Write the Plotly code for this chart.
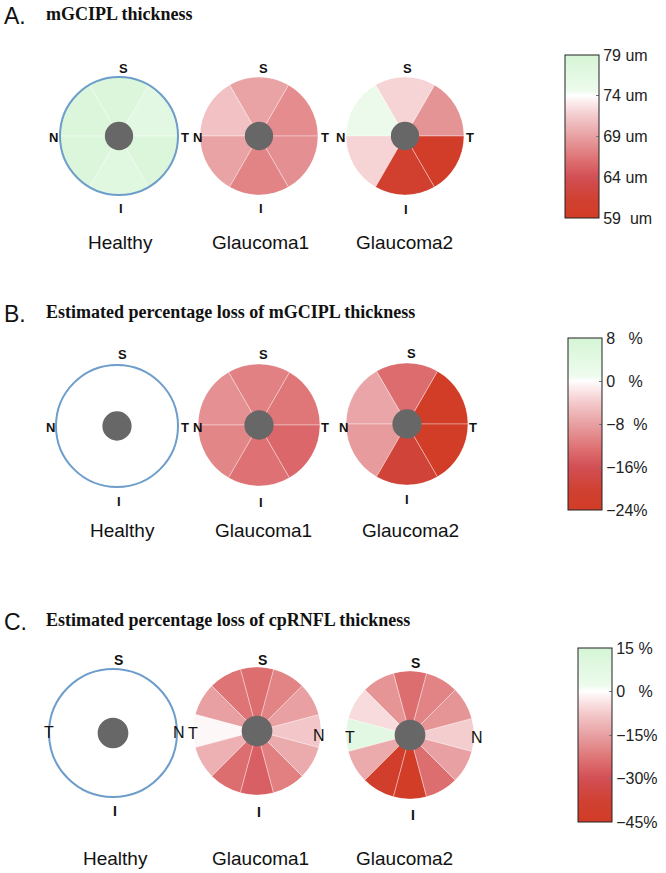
import plotly.graph_objects as go

W, H = 666, 873

# ---------------- data ----------------
groups = ["Healthy", "Glaucoma1", "Glaucoma2"]

# Panel A / B: 6 macular sectors (angle centres, counter-clockwise from the right side)
sector6_theta = [30, 90, 150, 210, 270, 330]
a_healthy = [76.5, 78.0, 78.0, 78.0, 77.0, 78.0]
a_glauc1 = [67.8, 69.2, 71.0, 69.2, 67.3, 68.0]
a_glauc2 = [68.3, 72.0, 75.0, 72.0, 60.5, 59.5]
a_ticks = [79, 74, 69, 64, 59]
a_ticktext = ["79 um", "74 um", "69 um", "64 um", "59  um"]

b_healthy = [0, 0, 0, 0, 0, 0]
b_glauc1 = [-12.0, -11.0, -9.5, -10.5, -12.5, -13.5]
b_glauc2 = [-23.5, -13.0, -7.5, -8.5, -19.5, -23.5]
b_ticks = [8, 0, -8, -16, -24]
b_ticktext = ["8   %", "0   %", "\u22128  %", "\u221216%", "\u221224%"]

# Panel C: 12 clock-hour sectors (0 = nasal on the right, 180 = temporal on the left)
sector12_theta = [0, 30, 60, 90, 120, 150, 180, 210, 240, 270, 300, 330]
c_healthy = [0, 0, 0, 0, 0, 0, 0, 0, 0, 0, 0, 0]
c_glauc1 = [-8, -15, -20, -24, -23, -15, -1, -12, -24, -27, -21, -13]
c_glauc2 = [-7, -17, -20, -24, -17, -5, 8, -13, -42, -44, -24, -15]
c_ticks = [15, 0, -15, -30, -45]
c_ticktext = ["15 %", "0   %", "\u221215%", "\u221230%", "\u221245%"]

# ---------------- style ----------------
cscale = [
    [0.0, "#d23c26"], [0.12, "#d04132"], [0.25, "#d24f55"], [0.35, "#dd6e70"],
    [0.5, "#e8a0a2"], [0.62, "#f3c8ca"], [0.72, "#fdf0f1"], [0.75, "#ffffff"],
    [0.78, "#eefbee"], [1.0, "#d5f5d5"],
]
SANS = "Liberation Sans, Arial, sans-serif"
SERIF = "Liberation Serif, Times New Roman, serif"

fig = go.Figure()

panels = [
    ([a_healthy, a_glauc1, a_glauc2], sector6_theta, 60, "coloraxis",
     [(119, 136), (259, 136), (405, 136)], 59),
    ([b_healthy, b_glauc1, b_glauc2], sector6_theta, 60, "coloraxis2",
     [(117, 426), (259, 425), (407, 424)], 61),
    ([c_healthy, c_glauc1, c_glauc2], sector12_theta, 30, "coloraxis3",
     [(113, 733), (257, 731), (410, 735)], 64),
]

k = 0
for vals_list, theta, wdt, cax, centres, rad in panels:
    for gi, vals in enumerate(vals_list):
        k += 1
        pname = "polar" if k == 1 else f"polar{k}"
        healthy = gi == 0
        fig.add_trace(go.Barpolar(
            r=[1] * len(vals), theta=theta, width=[wdt] * len(vals),
            marker=dict(color=vals, coloraxis=cax,
                        line=dict(color="rgba(255,255,255,0.45)", width=0.8)),
            subplot=pname, showlegend=False, hoverinfo="theta+text",
            text=[str(v) for v in vals],
        ))
        fig.add_trace(go.Barpolar(
            r=[0.24], theta=[0], width=[360],
            marker=dict(color="#676767", line=dict(width=0)),
            subplot=pname, showlegend=False, hoverinfo="skip",
        ))
        cx, cy = centres[gi]
        fig.layout[pname] = dict(
            domain=dict(x=[(cx - rad) / W, (cx + rad) / W],
                        y=[1 - (cy + rad) / H, 1 - (cy - rad) / H]),
            bgcolor="rgba(0,0,0,0)", barmode="overlay",
            radialaxis=dict(visible=False, range=[0, 1]),
            angularaxis=dict(
                rotation=0, direction="counterclockwise",
                showgrid=False, ticks="", showticklabels=False,
                showline=healthy, linecolor="#6d9dca", linewidth=2,
            ),
        )

def cbar(ticks, ticktext, x, ytop, ybot):
    return dict(
        tickmode="array", tickvals=ticks, ticktext=ticktext,
        x=x / W, xanchor="left", y=1 - (ytop + ybot) / 2 / H, yanchor="middle",
        len=(ybot - ytop) / H, lenmode="fraction",
        thickness=34, thicknessmode="pixels",
        outlinewidth=1, outlinecolor="#222", xpad=0, ypad=0,
        ticks="inside", ticklen=3, tickcolor="#777",
        tickfont=dict(family=SANS, size=16, color="#222"),
    )

fig.update_layout(
    coloraxis=dict(colorscale=cscale, cmin=59, cmax=79,
                   colorbar=cbar(a_ticks, a_ticktext, 565, 55, 218)),
    coloraxis2=dict(colorscale=cscale, cmin=-24, cmax=8,
                    colorbar=cbar(b_ticks, b_ticktext, 568, 338, 510)),
    coloraxis3=dict(colorscale=cscale, cmin=-45, cmax=15,
                    colorbar=cbar(c_ticks, c_ticktext, 578, 648, 822)),
)

ann = []
def add_text(txt, x, y, size, family, xanchor="left", bold=False):
    ann.append(dict(text=f"<b>{txt}</b>" if bold else txt, x=x / W, y=1 - y / H,
                    xref="paper", yref="paper", xanchor=xanchor, yanchor="middle",
                    showarrow=False, borderpad=0,
                    font=dict(family=family, size=size, color="#111")))

titles = ["mGCIPL thickness", "Estimated percentage loss of mGCIPL thickness",
          "Estimated percentage loss of cpRNFL thickness"]
letters = ["A.", "B.", "C."]
title_y = [14, 312, 620]
for L, T, ty in zip(letters, titles, title_y):
    add_text(L, 3, ty + 2, 23, SANS)
    add_text(T, 45, ty, 18, SERIF, bold=True)

# orientation letters (S, N/T, T/N, I) around each disc
dir_labels = [
    [("S", 123, 69), ("N", 53, 137), ("T", 185, 137), ("I", 121, 208)],
    [("S", 263, 69), ("N", 197, 137), ("T", 325, 137), ("I", 261, 208)],
    [("S", 407, 69), ("N", 341, 137), ("T", 470, 137), ("I", 406, 209)],
    [("S", 122, 354), ("N", 50, 427), ("T", 185, 427), ("I", 119, 502)],
    [("S", 263, 354), ("N", 197, 427), ("T", 325, 427), ("I", 261, 503)],
    [("S", 411, 353), ("N", 343, 427), ("T", 473, 427), ("I", 407, 500)],
    [("S", 118, 660), ("T", 49, 732), ("N", 179, 732), ("I", 115, 811)],
    [("S", 262, 660), ("T", 193, 733), ("N", 319, 735), ("I", 259, 812)],
    [("S", 415, 663), ("T", 350, 737), ("N", 477, 737), ("I", 413, 815)],
]
for di, row in enumerate(dir_labels):
    for t, x, y in row:
        if di < 6:
            add_text(t, x, y, 13, SANS, xanchor="center", bold=True)
        elif t in "SI":
            add_text(t, x, y, 14, SANS, xanchor="center", bold=True)
        else:
            add_text(t, x, y, 16, SANS, xanchor="center")

label_pos = [
    [(120, 242), (260, 242), (404, 242)],
    [(122, 530), (263, 530), (410, 530)],
    [(115, 858), (260, 858), (404, 858)],
]
for row in label_pos:
    for g, (x, y) in zip(groups, row):
        add_text(g, x, y, 19, SANS, xanchor="center")

fig.update_layout(
    width=W, height=H, margin=dict(l=0, r=0, t=0, b=0),
    paper_bgcolor="white", plot_bgcolor="white",
    annotations=ann, showlegend=False,
)

fig.write_html("out.html", config={"displayModeBar": False},
               post_script="document.body.style.margin='0px';")
